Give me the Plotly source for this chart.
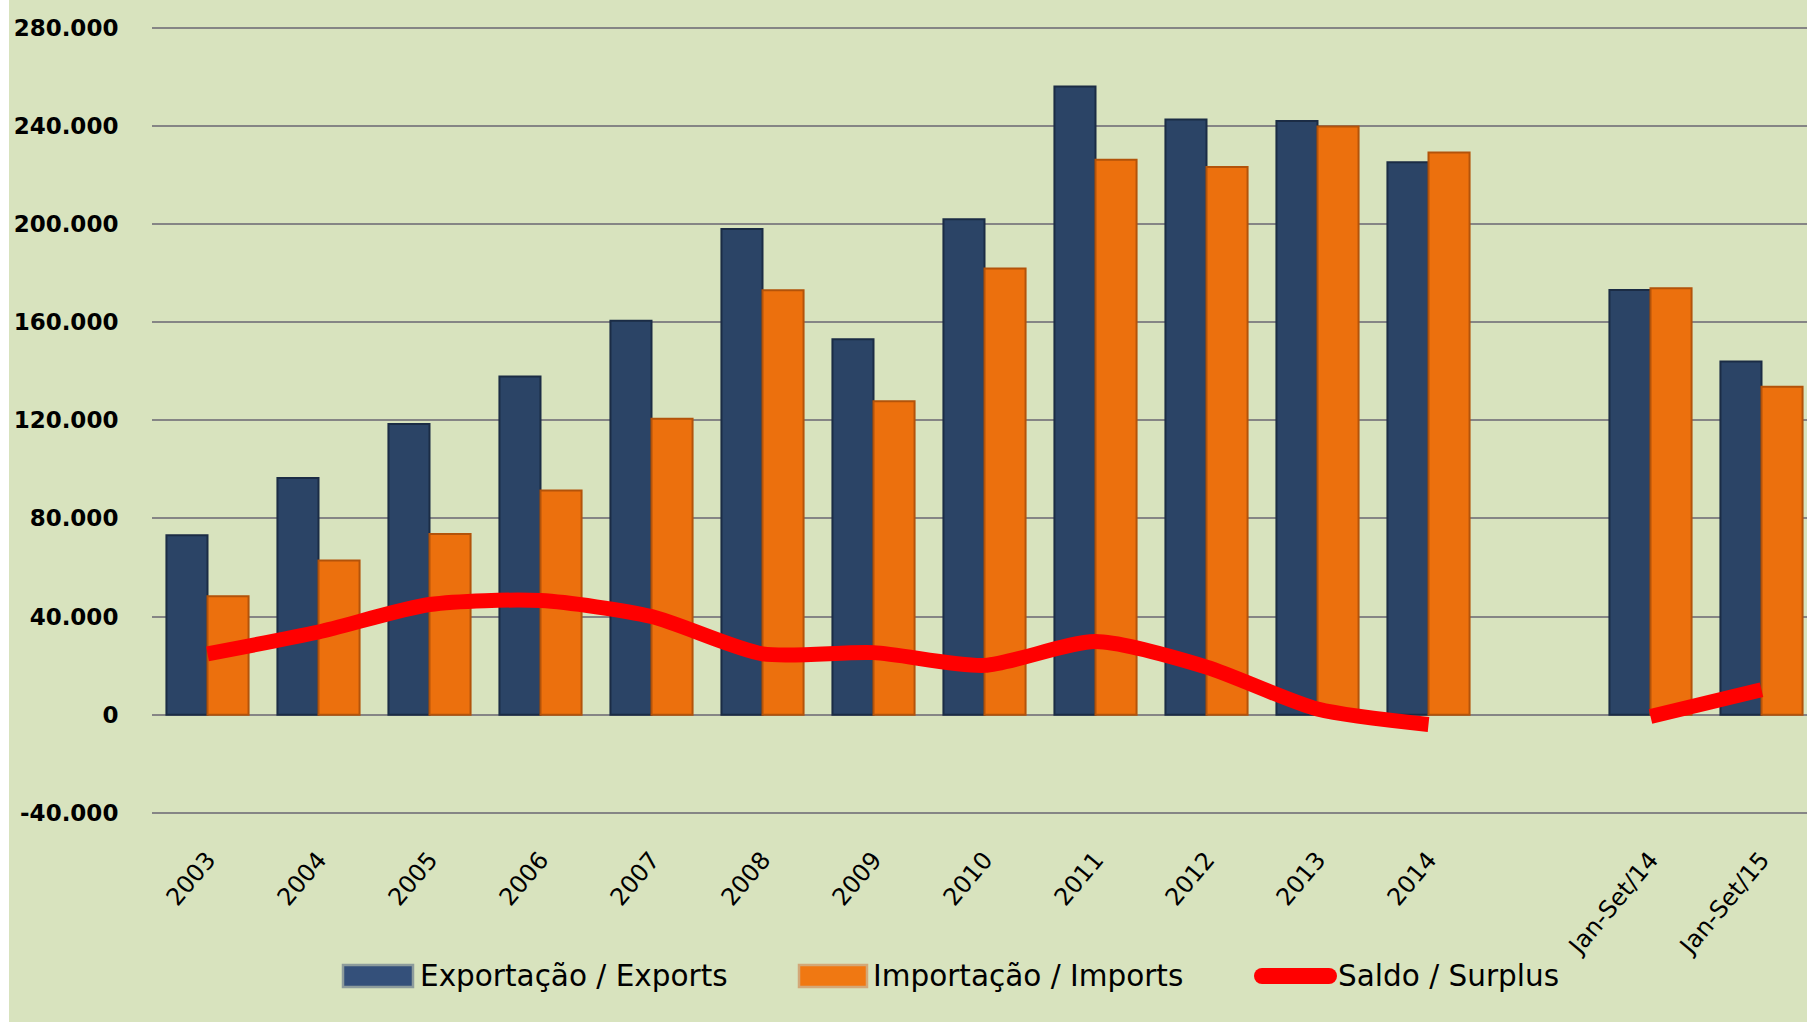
import plotly.graph_objects as go

categories = ["2003", "2004", "2005", "2006", "2007", "2008", "2009", "2010",
              "2011", "2012", "2013", "2014", " ", "Jan-Set/14", "Jan-Set/15"]
exports = [73100, 96500, 118500, 137800, 160600, 197900, 153000, 201900,
           256000, 242600, 242000, 225100, None, 173100, 143900]
imports = [48300, 62800, 73600, 91400, 120600, 173000, 127700, 181800,
           226200, 223200, 239700, 229100, None, 173800, 133700]
surplus = [24800, 33700, 44900, 46500, 40000, 24800, 25300, 20100,
           29800, 19400, 2300, -4000, None, -700, 10200]
y_tick_vals = [-40000, 0, 40000, 80000, 120000, 160000, 200000, 240000, 280000]
y_tick_text = ["-40.000", "0", "40.000", "80.000", "120.000", "160.000",
               "200.000", "240.000", "280.000"]
series_names = ["Exportação / Exports", "Importação / Imports", "Saldo / Surplus"]

BG = "#d8e3be"
BLUE = "#2b4466"
ORANGE = "#ec700d"
RED = "#ff0000"
W, H = 1807, 1022
ML = 152
PLOT_BOTTOM = 815          # pixel row of the plot-area bottom
MB = H - PLOT_BOTTOM
plot_w = W - ML
plot_h = PLOT_BOTTOM


def px_x(px):
    return (px - ML) / plot_w


def px_y(py):
    return (PLOT_BOTTOM - py) / plot_h


fig = go.Figure()
fig.add_trace(go.Bar(
    x=categories, y=exports, name=series_names[0],
    marker=dict(color=BLUE, line=dict(color="#1b2c45", width=2)),
))
fig.add_trace(go.Bar(
    x=categories, y=imports, name=series_names[1],
    marker=dict(color=ORANGE, line=dict(color="#b3530a", width=2)),
))
fig.add_trace(go.Scatter(
    x=categories, y=surplus, name=series_names[2], mode="lines",
    line=dict(color=RED, width=15, shape="spline", smoothing=0.7),
    connectgaps=False,
))

# legend drawn as swatches + text (wide Excel-style swatches)
LEG_Y = 976
shapes = [dict(type="rect", xref="paper", yref="paper",
               x0=px_x(0), x1=px_x(9), y0=px_y(H), y1=1.0,
               fillcolor="#ffffff", line=dict(width=0), layer="above")]
annotations = []
swatches = [(343, 413, "#34507a", "#8d9c9c"), (799, 867, "#f07812", "#d3a878")]
for (x0, x1, fill, edge) in swatches:
    shapes.append(dict(type="rect", xref="paper", yref="paper",
                       x0=px_x(x0), x1=px_x(x1), y0=px_y(LEG_Y + 11), y1=px_y(LEG_Y - 11),
                       fillcolor=fill, line=dict(color=edge, width=2.5)))
# red rounded line swatch: bar + two round caps
r = 8
sx0, sx1 = 1262, 1329
shapes.append(dict(type="rect", xref="paper", yref="paper",
                   x0=px_x(sx0), x1=px_x(sx1), y0=px_y(LEG_Y + r), y1=px_y(LEG_Y - r),
                   fillcolor=RED, line=dict(width=0)))
for cx in (sx0, sx1):
    shapes.append(dict(type="circle", xref="paper", yref="paper",
                       xsizemode="pixel", ysizemode="pixel",
                       xanchor=px_x(cx), yanchor=px_y(LEG_Y),
                       x0=-r, x1=r, y0=-r, y1=r,
                       fillcolor=RED, line=dict(width=0)))
for name, tx in zip(series_names, [419, 872, 1337]):
    annotations.append(dict(text=name, xref="paper", yref="paper",
                            x=px_x(tx), y=px_y(LEG_Y), xanchor="left", yanchor="middle",
                            showarrow=False, borderpad=0,
                            font=dict(family="DejaVu Sans", size=29.5, color="#000000")))

fig.update_layout(
    width=W, height=H,
    margin=dict(l=ML, r=0, t=0, b=MB, pad=0),
    paper_bgcolor=BG, plot_bgcolor=BG,
    barmode="group", bargap=0.26, bargroupgap=0,
    showlegend=False,
    xaxis=dict(
        type="category", range=[-0.5, -0.5 + plot_w / 111.0],
        showgrid=False, showline=False, zeroline=False,
        tickangle=-50, ticks="outside", ticklen=20, tickcolor="rgba(0,0,0,0)",
        tickfont=dict(family="DejaVu Sans", size=24, color="#000000"),
    ),
    yaxis=dict(
        range=[-40876, 291268],
        tickvals=y_tick_vals, ticktext=y_tick_text,
        showgrid=True, gridcolor="#858585", gridwidth=2,
        zeroline=True, zerolinecolor="#858585", zerolinewidth=2,
        showline=False, ticks="outside", ticklen=28, tickcolor="rgba(0,0,0,0)",
        tickfont=dict(family="DejaVu Sans", size=23, color="#000000", weight="bold"),
    ),
    shapes=shapes,
    annotations=annotations,
)

fig.write_html("out.html", config={"displayModeBar": False},
               post_script="document.body.style.margin='0';document.body.style.overflow='hidden';")
